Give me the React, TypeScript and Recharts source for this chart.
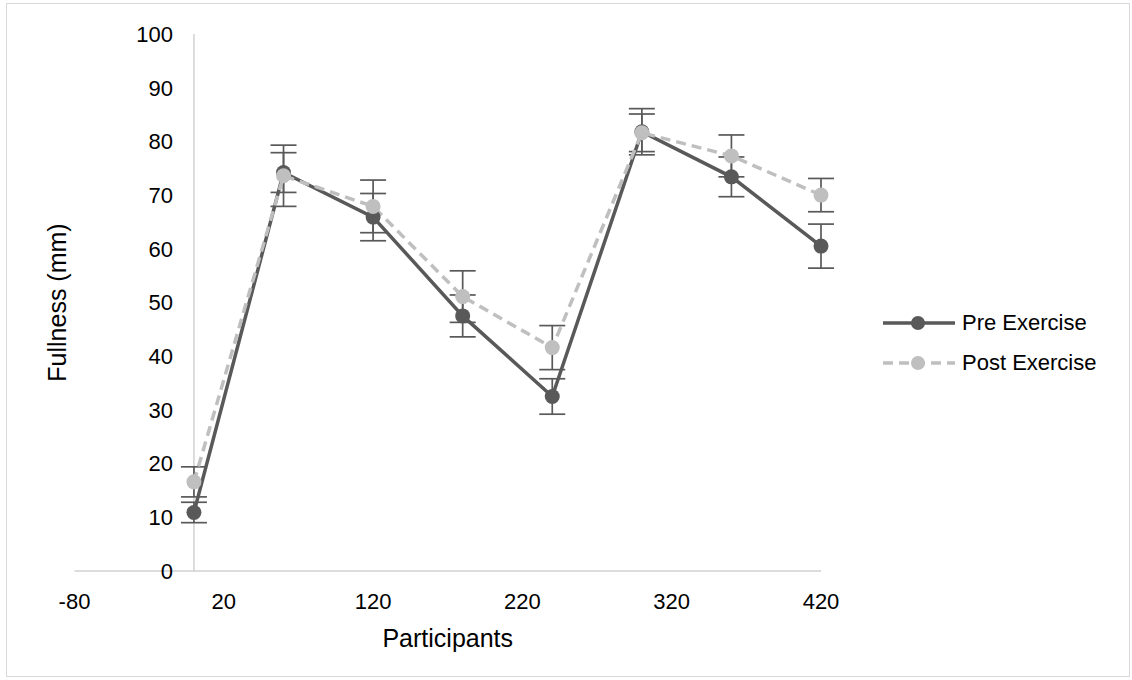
import React from 'react';
import { ComposedChart, Line, XAxis, YAxis, ErrorBar, ReferenceLine } from 'recharts';

// participant position on x, mean fullness and error (mm)
const participants = [0, 60, 120, 180, 240, 300, 360, 420];
const preMean = [10.9, 74.2, 65.9, 47.5, 32.5, 81.8, 73.4, 60.5];
const preErr = [1.9, 3.7, 4.4, 3.9, 3.3, 4.3, 3.7, 4.1];
const postMean = [16.6, 73.6, 67.9, 51.1, 41.6, 81.6, 77.3, 70.0];
const postErr = [2.8, 5.7, 4.9, 4.8, 4.1, 3.5, 3.9, 3.1];

const xTicks = [-80, 20, 120, 220, 320, 420];
const yTicks = [0, 10, 20, 30, 40, 50, 60, 70, 80, 90, 100];

const W = 1132;
const H = 680;
const Y_AXIS_W = 60;
const margin = { top: 34, right: 311, bottom: 0, left: 74.5 - Y_AXIS_W };
const plotLeft = margin.left + Y_AXIS_W;
const plotW = W - plotLeft - margin.right;
const X_MIN = -80;
const X_MAX = 420;
// Excel draws the vertical axis where x = 0
const yAxisX = plotLeft + (plotW * (0 - X_MIN)) / (X_MAX - X_MIN);

const PRE = '#595959';
const POST = '#bfbfbf';
const AXIS = '#d0d0d0';
const FONT = '"Liberation Sans", Arial, sans-serif';

const rows = participants.map((x, i) => ({
  x,
  pre: preMean[i],
  preErr: preErr[i],
  post: postMean[i],
  postErr: postErr[i],
}));

const renderYTick = ({ y, payload }: any) => (
  <text x={yAxisX - 21} y={y} dy="0.355em" textAnchor="end" fontSize={22} fontFamily={FONT} fill="#000">
    {payload.value}
  </text>
);

const legendItems = [
  { name: 'Pre Exercise', color: PRE, dash: undefined as string | undefined },
  { name: 'Post Exercise', color: POST, dash: '10 6' },
];

const ChartLegend = () => (
  <div style={{ position: 'absolute', left: 883, top: 303, fontFamily: FONT, fontSize: 22, color: '#000' }}>
    {legendItems.map(item => (
      <div key={item.name} style={{ display: 'flex', alignItems: 'center', height: 40, whiteSpace: 'nowrap' }}>
        <svg width={72} height={20} style={{ marginRight: 7 }}>
          <line x1={0} y1={10} x2={72} y2={10} stroke={item.color} strokeWidth={3.5} strokeDasharray={item.dash} />
          <circle cx={35} cy={10} r={7} fill={item.color} />
        </svg>
        <span>{item.name}</span>
      </div>
    ))}
  </div>
);

export default function App() {
  return (
    <div style={{ position: 'absolute', left: 0, top: 0, width: W, height: H, background: '#fff' }}>
      <div
        style={{
          position: 'absolute',
          left: 6,
          top: 3,
          width: W - 8,
          height: H - 6,
          border: '1px solid #d9d9d9',
          boxSizing: 'border-box',
        }}
      />
      <ComposedChart width={W} height={H} data={rows} margin={margin}>
        <XAxis
          type="number"
          dataKey="x"
          domain={[X_MIN, X_MAX]}
          ticks={xTicks}
          interval={0}
          height={109}
          axisLine={{ stroke: AXIS, strokeWidth: 1.5 }}
          tickLine={false}
          tickSize={0}
          tickMargin={22}
          tick={{ fontSize: 22, fontFamily: FONT, fill: '#000' }}
          label={{
            content: ({ viewBox }: any) => (
              <text
                x={viewBox.x + viewBox.width / 2}
                y={viewBox.y + 76}
                textAnchor="middle"
                fontSize={25}
                fontFamily={FONT}
                fill="#000"
              >
                Participants
              </text>
            ),
          }}
        />
        <YAxis
          type="number"
          domain={[0, 100]}
          ticks={yTicks}
          interval={0}
          width={Y_AXIS_W}
          axisLine={false}
          tickLine={false}
          tick={renderYTick}
          label={{
            content: ({ viewBox }: any) => {
              const cx = 57;
              const cy = viewBox.y + viewBox.height / 2;
              return (
                <text
                  x={cx}
                  y={cy}
                  transform={`rotate(-90, ${cx}, ${cy})`}
                  textAnchor="middle"
                  dominantBaseline="central"
                  fontSize={25}
                  fontFamily={FONT}
                  fill="#000"
                >
                  Fullness (mm)
                </text>
              );
            },
          }}
        />
        <ReferenceLine x={0} stroke={AXIS} strokeWidth={1.5} />
        <Line
          dataKey="pre"
          name="Pre Exercise"
          stroke={PRE}
          strokeWidth={3.5}
          dot={{ r: 7.5, fill: PRE, stroke: 'none' }}
          activeDot={false}
          isAnimationActive={false}
        >
          <ErrorBar dataKey="preErr" direction="y" width={13} stroke={PRE} strokeWidth={1.7} />
        </Line>
        <Line
          dataKey="post"
          name="Post Exercise"
          stroke={POST}
          strokeWidth={3.5}
          strokeDasharray="10 6"
          dot={{ r: 7.5, fill: POST, stroke: 'none' }}
          activeDot={false}
          isAnimationActive={false}
        >
          <ErrorBar dataKey="postErr" direction="y" width={13} stroke={PRE} strokeWidth={1.7} />
        </Line>
      </ComposedChart>
      <ChartLegend />
    </div>
  );
}
